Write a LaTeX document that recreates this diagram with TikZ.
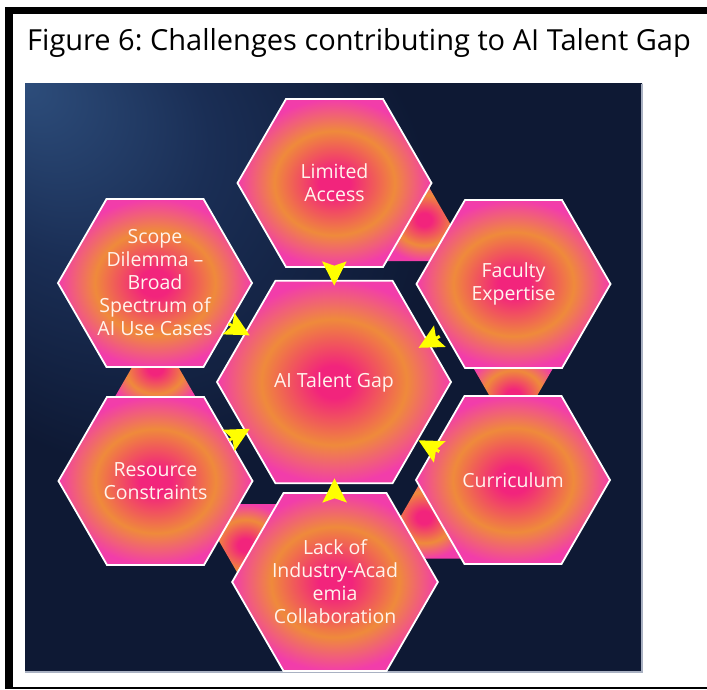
\documentclass[tikz,border=0pt]{standalone}
\usepackage{fontspec}
\setmainfont{Open Sans}
\usetikzlibrary{shapes.geometric, arrows.meta, calc}

\definecolor{panelbase}{HTML}{0E1934}
\definecolor{panelmid}{HTML}{1A2E55}
\definecolor{panelhi}{HTML}{2D4D7B}
\definecolor{panelrim}{HTML}{A9B1C2}
\definecolor{glowcore}{HTML}{F2247C}
\definecolor{glowring}{HTML}{EF8A3B}
\definecolor{glowrim}{HTML}{F23DAA}
\definecolor{hextext}{HTML}{FFF4EC}
\definecolor{feedyellow}{HTML}{FFFF00}

% pink core, orange ring, magenta rim
\pgfdeclareradialshading{hexglow}{\pgfpoint{0bp}{0bp}}{%
  color(0bp)=(glowcore); color(4bp)=(glowcore); color(15.5bp)=(glowring);
  color(25bp)=(glowrim); color(50bp)=(glowrim)}
% soft light in the upper left corner of the panel
\pgfdeclareradialshading{panelglow}{\pgfpoint{-25bp}{25bp}}{%
  color(0bp)=(panelhi); color(10bp)=(panelmid); color(22bp)=(panelbase);
  color(50bp)=(panelbase)}

\newcommand{\hexfont}{\fontsize{19.5}{23}\selectfont}
\frenchspacing

\begin{document}
\begin{tikzpicture}[x=1pt,y=-1pt,
	hexcell/.style={regular polygon,regular polygon sides=6,minimum size=194pt,
		inner sep=0pt,outer sep=0pt,draw=white,line width=1.8pt,
		shade,shading=hexglow,text=hextext,align=center,font=\hexfont},
	hubcell/.style={hexcell,minimum size=234pt},
	linktri/.style={regular polygon,regular polygon sides=3,minimum size=110pt,
		inner sep=0pt,outer sep=0pt,shade,shading=hexglow},
	feed/.style={draw=feedyellow,line width=3pt,
		-{Stealth[length=24pt,width=24pt,inset=4pt]},shorten >=-5pt}
]
	\useasboundingbox (0,0) rectangle (707,690);

	% frame
	\fill[black] (5,7) rectangle (707,14);
	\fill[black] (5,7) rectangle (13,689);
	\fill[black] (5,687) rectangle (707,689);

	\node[anchor=base west,inner sep=0pt,font=\fontsize{29}{35}\selectfont] (title) at (27,51)
		{Figure 6: Challenges contributing to AI Talent Gap};

	% dark panel
	\shade[shading=panelglow] (25,84) rectangle (642,672);
	\draw[panelrim,line width=1.2pt] (25,672) -- (642,672) -- (642,84);

	% cell centres
	\coordinate (pGap) at (334,382);
	\coordinate (pLim) at (334.5,183);
	\coordinate (pFac) at (513.5,284);
	\coordinate (pCur) at (513,480);
	\coordinate (pLack) at (335,582);
	\coordinate (pRes) at (155.5,481);
	\coordinate (pScope) at (155,283);

	% little links between neighbours
	\node[linktri] (link1) at ($(pLim)!0.5!(pFac)$) {};
	\node[linktri,shape border rotate=180] (link2) at ($(pFac)!0.5!(pCur)$) {};
	\node[linktri] (link3) at ($(pCur)!0.5!(pLack)$) {};
	\node[linktri,shape border rotate=180] (link4) at ($(pLack)!0.5!(pRes)$) {};
	\node[linktri] (link5) at ($(pRes)!0.5!(pScope)$) {};

	\node[hubcell] (gap) at (pGap) {AI Talent Gap};
	\node[hexcell] (limited) at (pLim) {Limited\\Access};
	\node[hexcell] (faculty) at (pFac) {Faculty\\Expertise};
	\node[hexcell] (curriculum) at (pCur) {Curriculum};
	\node[hexcell] (lack) at (pLack) {Lack of\\Industry-Acad\\emia\\Collaboration};
	\node[hexcell] (resource) at (pRes) {Resource\\Constraints};
	\node[hexcell] (scope) at (pScope) {Scope\\Dilemma --\\Broad\\Spectrum of\\AI Use Cases};

	\draw[feed] (limited) -- (gap);
	\draw[feed] (scope) -- (gap);
	\draw[feed] (resource) -- (gap);
	\draw[feed] (lack) -- (gap);
	\draw[feed,transform canvas={yshift=-12pt}] (faculty) -- (gap);
	\draw[feed,transform canvas={yshift=-12pt}] (curriculum) -- (gap);
\end{tikzpicture}
\end{document}
